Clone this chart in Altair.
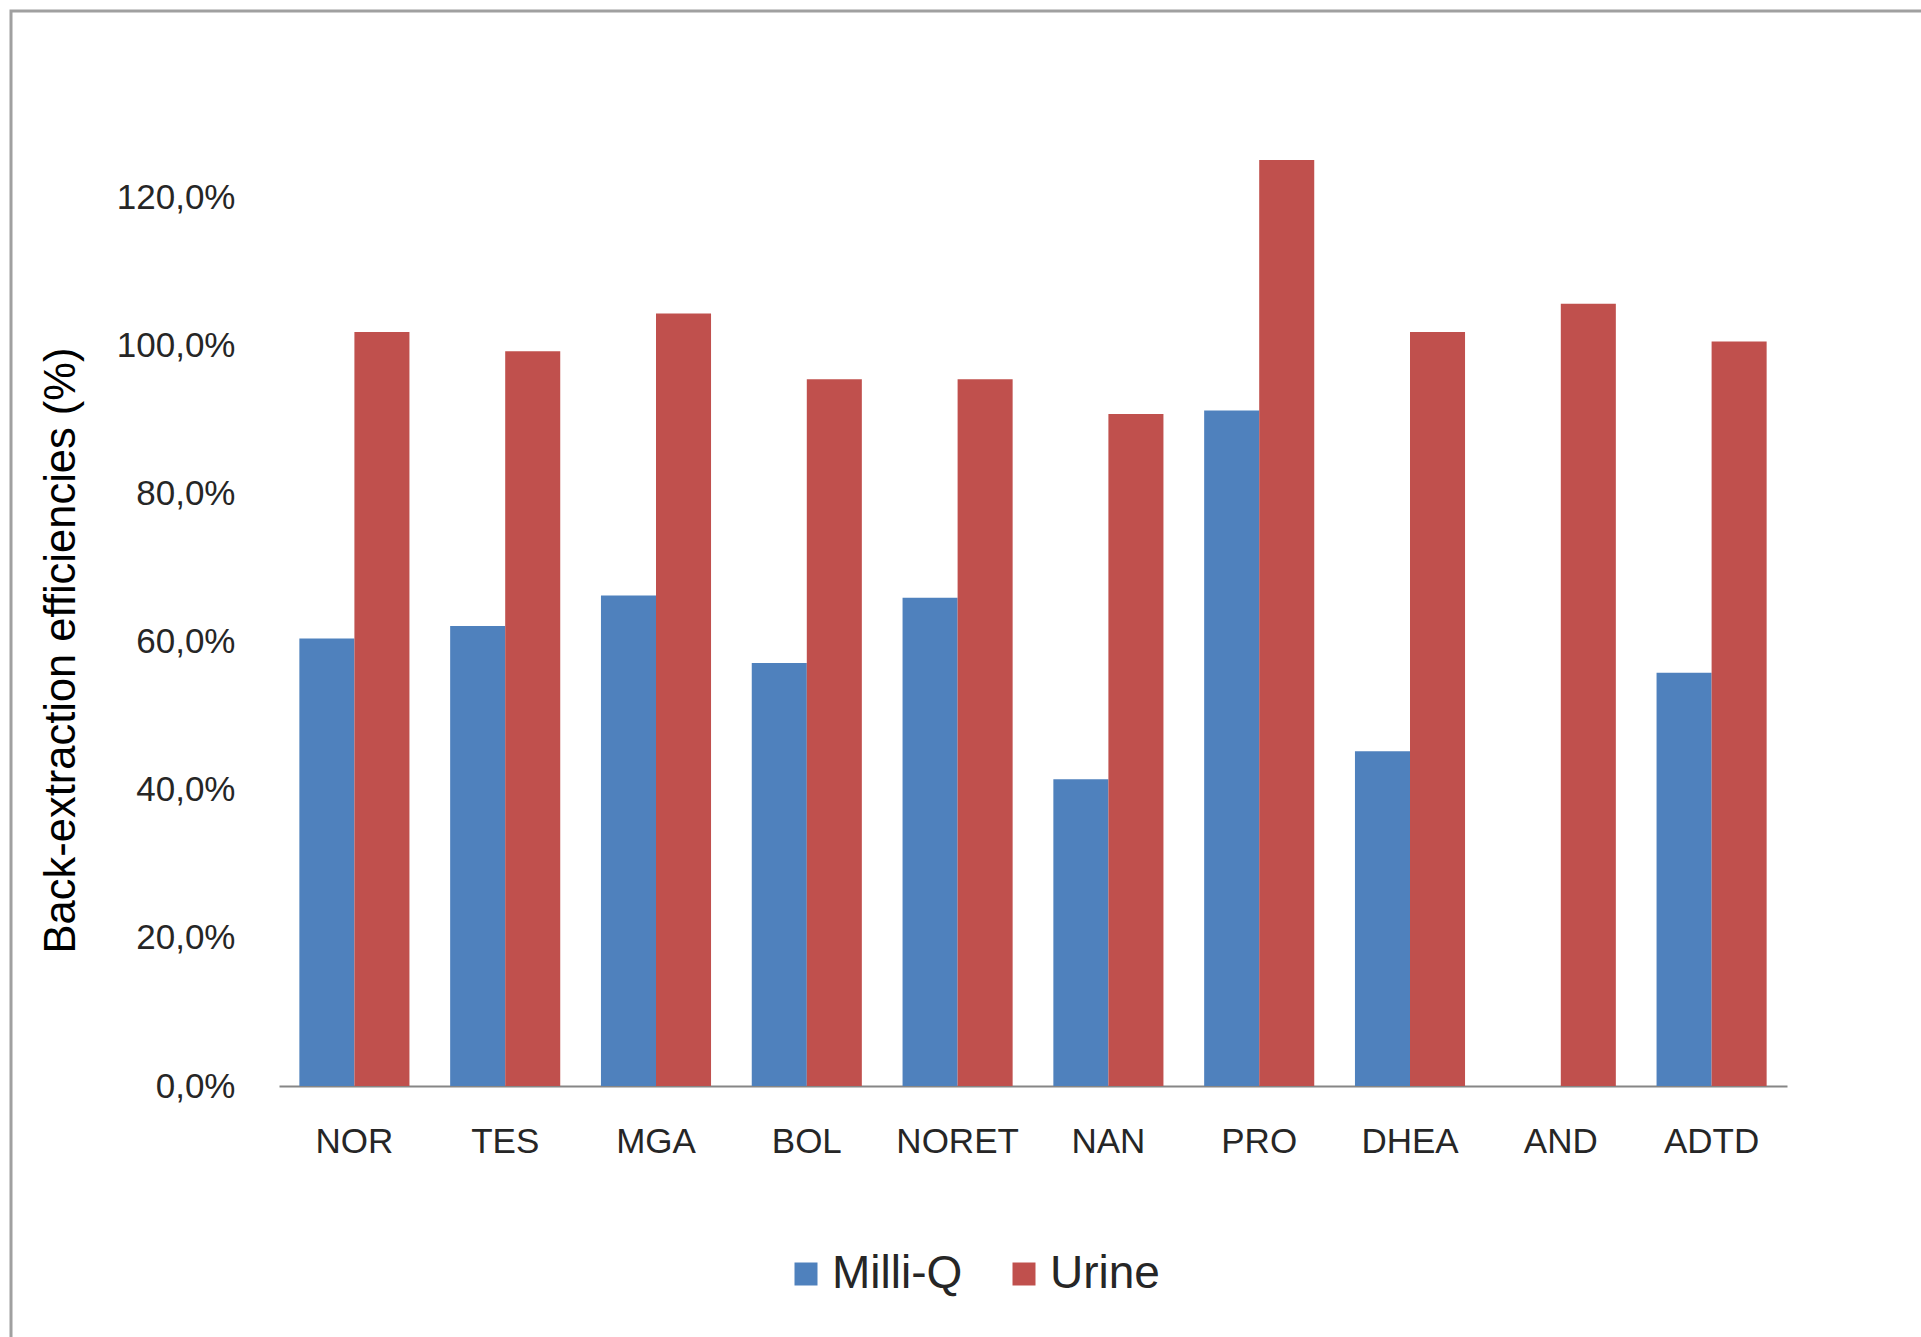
import altair as alt
import pandas as pd

categories = ["NOR", "TES", "MGA", "BOL", "NORET", "NAN", "PRO", "DHEA", "AND", "ADTD"]
series = ["Milli-Q", "Urine"]
milliq = [60.4, 62.1, 66.2, 57.1, 65.9, 41.4, 91.2, 45.2, None, 55.8]
urine = [101.8, 99.2, 104.3, 95.4, 95.4, 90.7, 125.0, 101.8, 105.6, 100.5]
y_ticks = [0, 20, 40, 60, 80, 100, 120]
colors = ["#4F81BD", "#C0504D"]

rows = []
for c, m, u in zip(categories, milliq, urine):
    if m is not None:
        rows.append({"compound": c, "series": "Milli-Q", "value": m})
    rows.append({"compound": c, "series": "Urine", "value": u})
df = pd.DataFrame(rows)

FONT = "Liberation Sans"

bars = alt.Chart(df).mark_bar().encode(
    x=alt.X(
        "compound:N",
        sort=categories,
        scale=alt.Scale(paddingInner=0.27, paddingOuter=0.135),
        axis=alt.Axis(
            title=None,
            labelAngle=0,
            ticks=False,
            labelPadding=38,
            labelFontSize=35,
            labelFont=FONT,
            labelColor="#262626",
            domainColor="#868686",
            domainWidth=2,
            grid=False,
        ),
    ),
    xOffset=alt.XOffset(
        "series:N", sort=series, scale=alt.Scale(paddingInner=0, paddingOuter=0)
    ),
    y=alt.Y(
        "value:Q",
        scale=alt.Scale(domain=[0, 130], nice=False),
        axis=alt.Axis(
            values=y_ticks,
            title="Back-extraction efficiencies (%)",
            labelExpr="replace(format(datum.value, '.1f'), '.', ',') + '%'",
            ticks=False,
            domain=False,
            grid=False,
            labelPadding=44,
            labelFontSize=35,
            labelFont=FONT,
            labelColor="#262626",
            titleFont=FONT,
            titleFontSize=43.5,
            titleFontWeight="normal",
            titleColor="#000000",
            titleAngle=270,
            titleBaseline="middle",
            titleX=-218,
            titleY=527,
        ),
    ),
    color=alt.Color(
        "series:N",
        sort=series,
        scale=alt.Scale(domain=series, range=colors),
        legend=alt.Legend(
            title=None,
            orient="none",
            direction="horizontal",
            legendX=504,
            legendY=1128,
            symbolType="square",
            symbolSize=529,
            symbolStrokeWidth=0,
            symbolOpacity=1,
            labelFontSize=46,
            labelFont=FONT,
            labelColor="#262626",
            labelOffset=3,
            columnPadding=38,
        ),
    ),
)

frame = alt.Chart(alt.Data(values=[{"k": 1}])).mark_rect(
    fill=None, stroke="#a0a0a0", strokeWidth=3
).encode(
    x=alt.value(-268),
    x2=alt.value(1700),
    y=alt.value(-112),
    y2=alt.value(1240),
)

chart = alt.layer(frame, bars).properties(
    width=1508,
    height=963,
    autosize=alt.AutoSizeParams(type="none"),
    padding={"left": 279, "top": 123, "right": 134, "bottom": 251},
    background="white",
).configure_view(stroke=None)

chart.save("out.html", embed_options={"renderer": "svg", "actions": False})
